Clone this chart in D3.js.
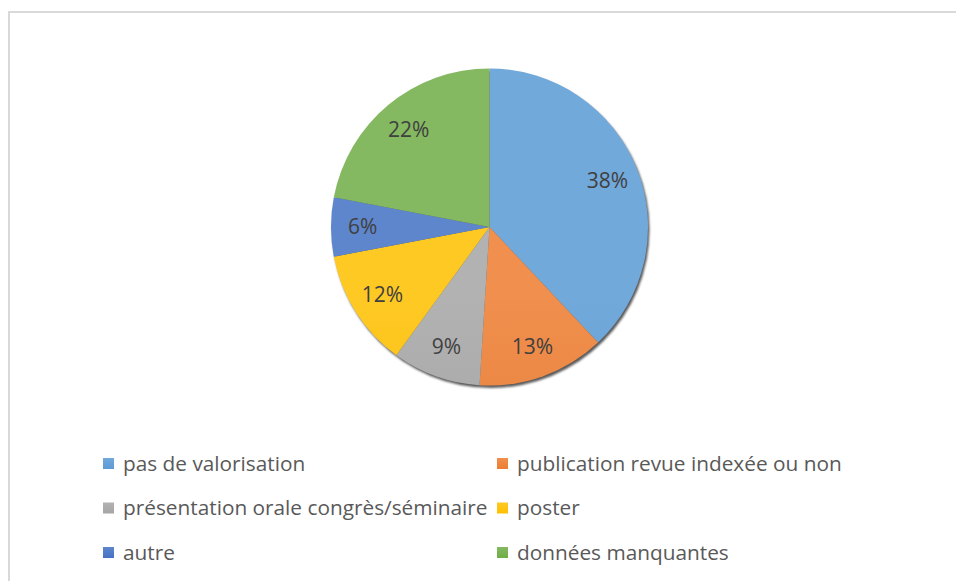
<meta charset="utf-8">
<title>Valorisation</title>
<body style="margin:0;background:#fff">
<script src="https://cdn.jsdelivr.net/npm/d3@7"></script>
<script>
// data, clockwise from the top
var categories = ['pas de valorisation', 'publication revue indexée ou non',
                  'présentation orale congrès/séminaire', 'poster',
                  'autre', 'données manquantes'];
var values = [38, 13, 9, 12, 6, 22];
var colors = ['#5B9BD5', '#ED7D31', '#A5A5A5', '#FFC000', '#4472C4', '#70AD47'];

var width = 956, height = 581;
var cx = 489.5, cy = 227, r = 158.5;

var svg = d3.select('body').append('svg')
            .attr('width', width)
            .attr('height', height)
              .style('display', 'block');

// chart frame (cut at right / bottom)
svg.append('rect')
    .attr('x', 9).attr('y', 12)
    .attr('width', 1000).attr('height', 1000)
      .style('fill', 'none')
      .style('stroke', '#d9d9d9')
      .style('stroke-width', 2);

var defs = svg.append('defs');
defs.append('filter').attr('id', 'blur')
    .append('feGaussianBlur').attr('stdDeviation', 1.2);

colors.forEach(function(c, i){
  var g = defs.append('linearGradient')
      .attr('id', 'grad' + i)
      .attr('gradientUnits', 'userSpaceOnUse')
      .attr('x1', 0).attr('x2', 0)
      .attr('y1', cy - r).attr('y2', cy + r);
  g.append('stop').attr('offset', 0).attr('stop-color', d3.interpolateRgb(c, '#fff')(0.14));
  g.append('stop').attr('offset', 1).attr('stop-color', d3.interpolateRgb(c, '#000')(0.04));
});

var pieG = svg.append('g').attr('transform', 'translate(' + cx + ',' + cy + ')');

// drop shadow
pieG.append('circle')
    .attr('cx', 1.5).attr('cy', 2.5).attr('r', r)
      .style('fill', '#5a5a5a')
      .attr('filter', 'url(#blur)');

var pie = d3.pie().sort(null).value(function(d){ return d; });
var arcs = pie(values);
var arc = d3.arc().innerRadius(0).outerRadius(r);
var labelArc = d3.arc().innerRadius(r * 0.8).outerRadius(r * 0.8);

pieG.selectAll('path.slice')
    .data(arcs)
    .enter().append('path')
      .attr('class', 'slice')
      .attr('d', arc)
      .style('fill', function(d, i){ return 'url(#grad' + i + ')'; });

pieG.selectAll('text.lab')
    .data(arcs)
    .enter().append('text')
      .attr('class', 'lab')
      .attr('transform', function(d){ return 'translate(' + labelArc.centroid(d) + ')'; })
      .attr('dy', '0.35em')
      .style('text-anchor', 'middle')
      .style('font-family', 'Open Sans')
      .style('font-size', '21px')
      .style('fill', '#404040')
      .text(function(d){ return d.data + '%'; });

// legend: two columns, three rows
var colX = d3.scalePoint().domain([0, 1]).range([103, 497]);
var rowY = d3.scalePoint().domain([0, 1, 2]).range([463.5, 552.5]);

colors.forEach(function(c, i){
  var g = defs.append('linearGradient')
      .attr('id', 'lgrad' + i)
      .attr('x1', 0).attr('x2', 0).attr('y1', 0).attr('y2', 1);
  g.append('stop').attr('offset', 0).attr('stop-color', d3.interpolateRgb(c, '#fff')(0.14));
  g.append('stop').attr('offset', 1).attr('stop-color', c);
});

var leg = svg.selectAll('g.leg')
    .data(categories)
    .enter().append('g')
      .attr('class', 'leg')
      .attr('transform', function(d, i){
        return 'translate(' + colX(i % 2) + ',' + rowY(Math.floor(i / 2)) + ')';
      });

leg.append('rect')
    .attr('x', 0).attr('y', -5.5)
    .attr('width', 11).attr('height', 11)
      .style('fill', function(d, i){ return 'url(#lgrad' + i + ')'; });

leg.append('text')
    .attr('x', 20)
    .attr('dy', '0.35em')
    .style('font-family', 'Open Sans')
    .style('font-size', '20.8px')
    .style('fill', '#595959')
    .text(function(d){ return d; });
</script>
</body>
